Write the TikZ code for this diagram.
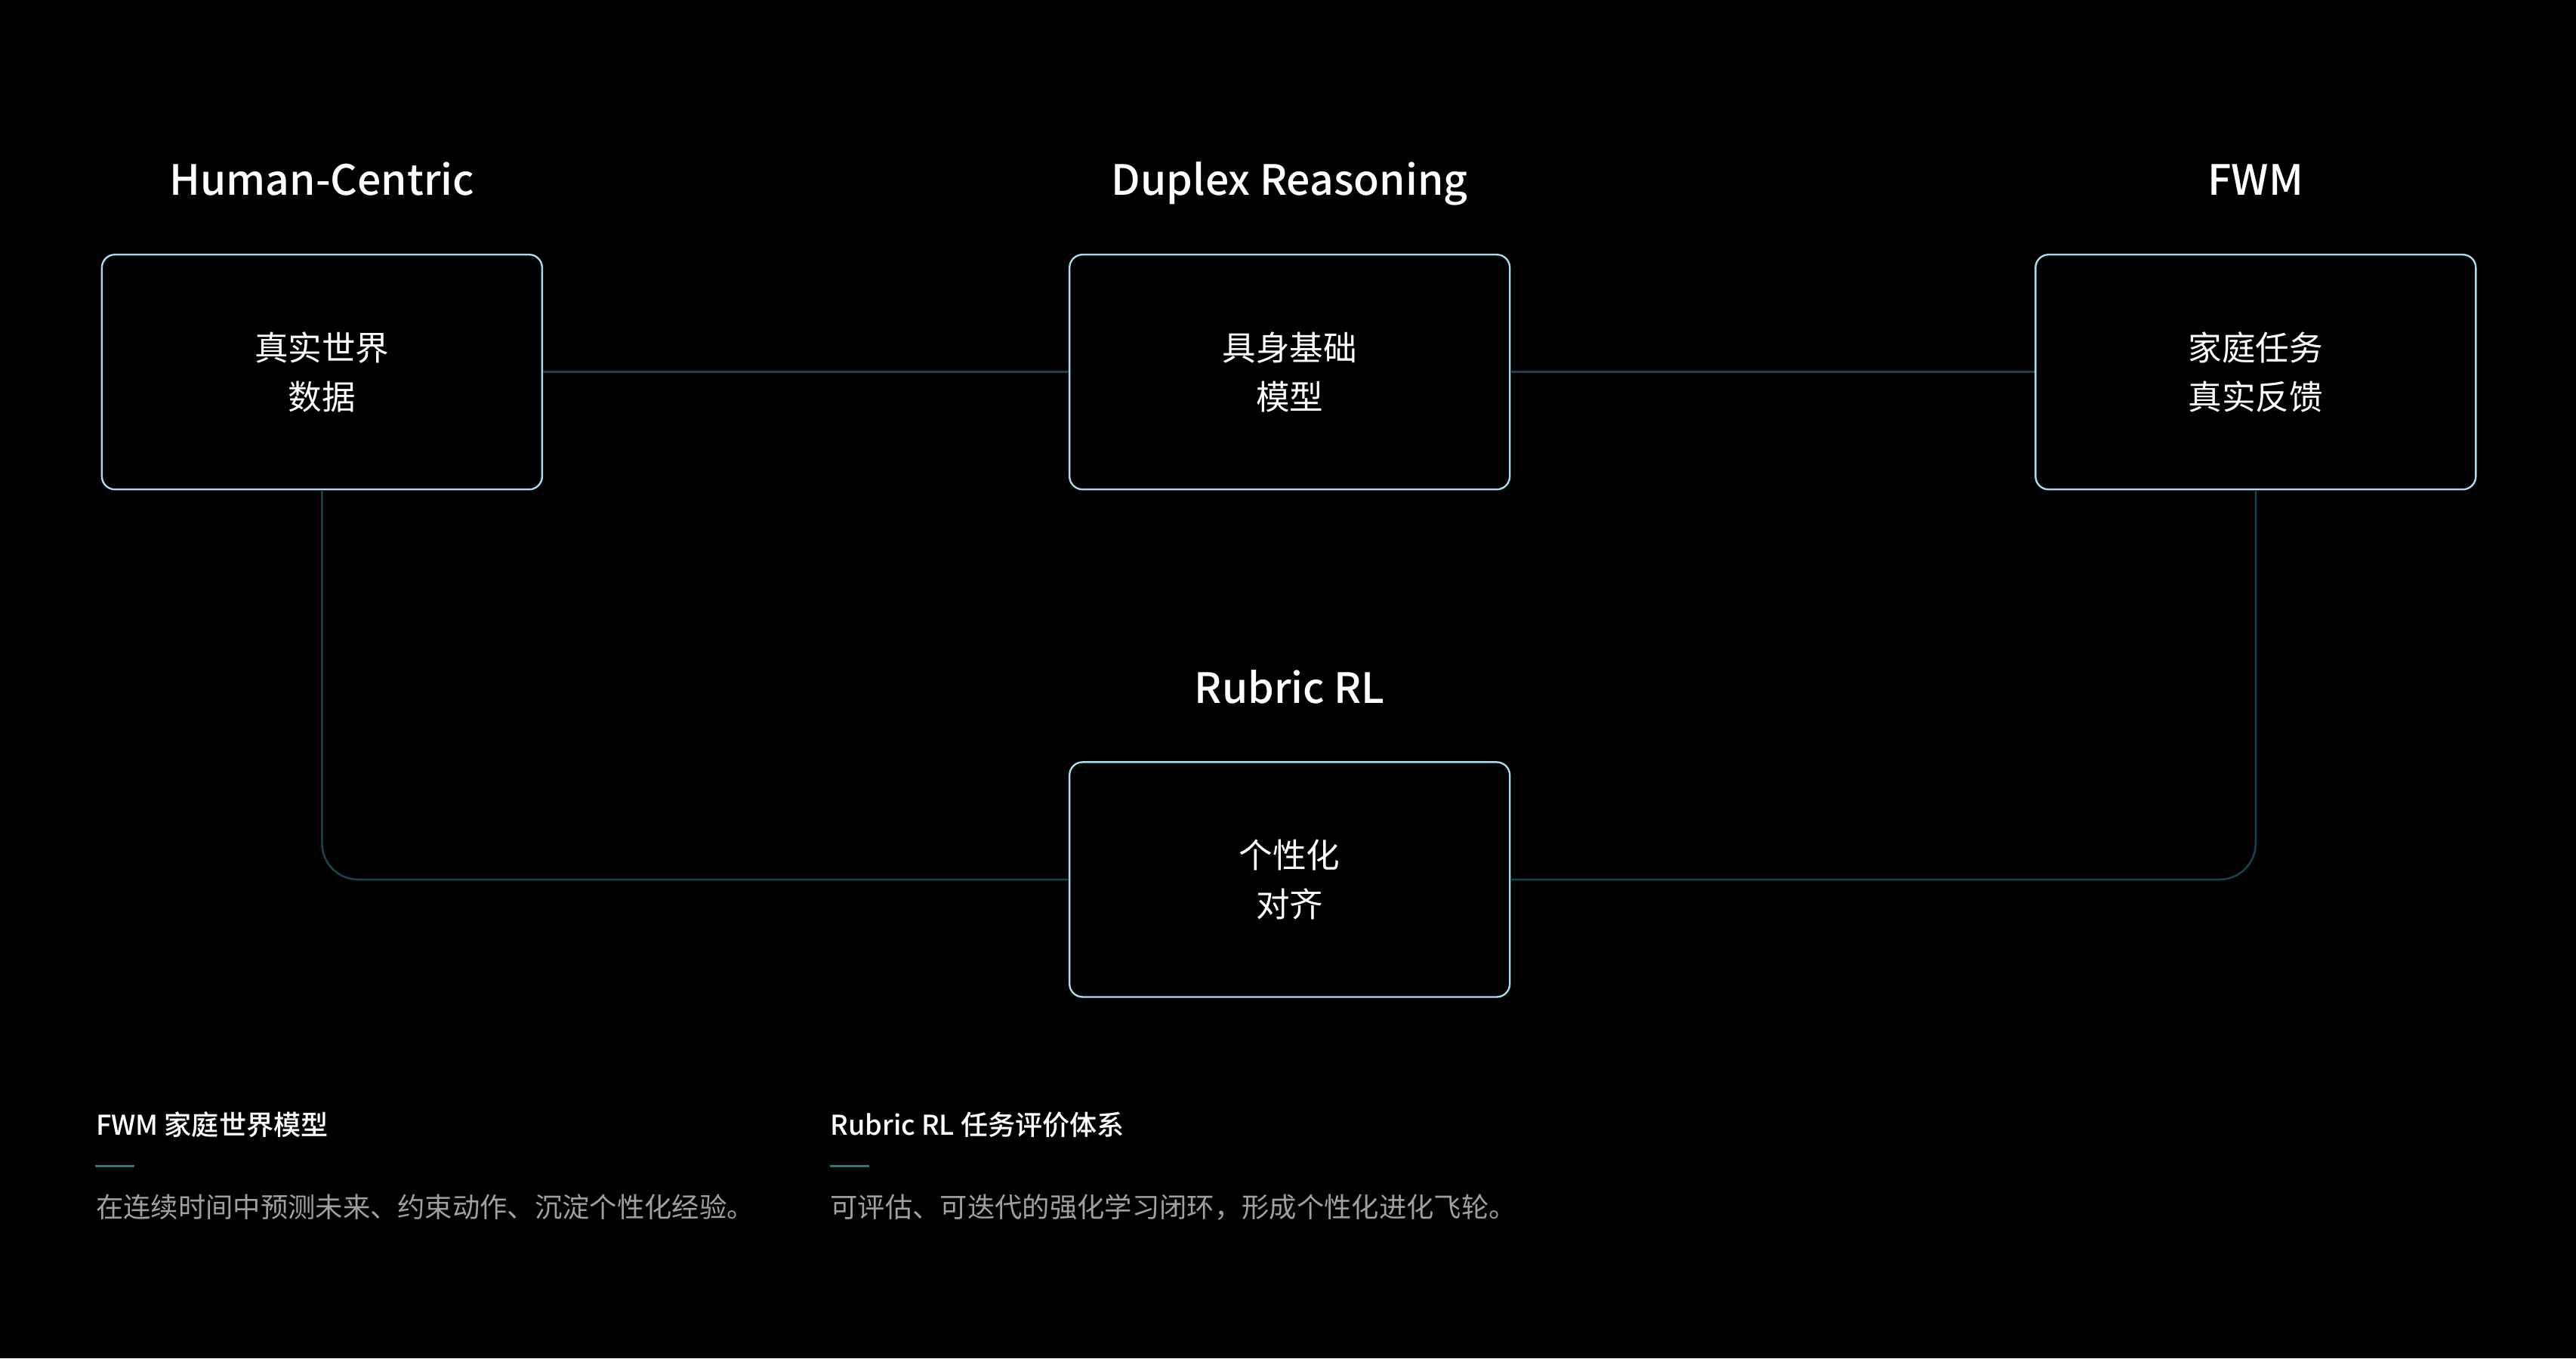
\documentclass[tikz,border=0pt]{standalone}
\usepackage{fontspec}
\setmainfont{Noto Sans CJK SC}[BoldFont={Noto Sans CJK SC Medium}]
\usepackage{tikz}
\usetikzlibrary{positioning}
\definecolor{edgeblue}{HTML}{A8DCEC}
\definecolor{linkteal}{HTML}{17434F}
\definecolor{markteal}{HTML}{1E7B8F}
\definecolor{bodygray}{HTML}{A0A0A0}
\tikzstyle{box} = [draw=edgeblue, line width=0.55pt, rounded corners=4pt, minimum width=134pt, minimum height=71.5pt, align=center, text=white, font=\fontsize{10.25}{15}\selectfont]
\tikzstyle{head} = [text=white, anchor=base, font=\fontsize{12.7}{15}\selectfont\bfseries]
\tikzstyle{link} = [draw=linkteal, line width=0.6pt]
\tikzstyle{legendhead} = [text=white, anchor=base west, inner sep=0pt, font=\fontsize{8.3}{10}\selectfont\bfseries]
\tikzstyle{legendbody} = [text=bodygray, anchor=base west, inner sep=0pt, font=\fontsize{8.35}{10}\selectfont]

\begin{document}
\begin{tikzpicture}[x=0.5pt,y=-0.5pt]
            \fill[black] (0,0) rectangle (1568,827);
            \useasboundingbox (0,0) rectangle (1568,827);
            % three stages on top, alignment below
            \node[box] (data) at (196,226.5) {真实世界\\数据};
            \node[box] (model) at (785,226.5) {具身基础\\模型};
            \node[box] (feedback) at (1373,226.5) {家庭任务\\真实反馈};
            \node[box] (align) at (785,535.5) {个性化\\对齐};
            \node[head] (hc) at (196,119) {Human-Centric};
            \node[head] (dr) at (785,119) {Duplex Reasoning};
            \node[head] (fwm) at (1373,119) {FWM};
            \node[head] (rrl) at (785,428) {Rubric RL};
            % links
            \draw[link] (data) -- (model);
            \draw[link] (model) -- (feedback);
            \draw[link, rounded corners=11pt] (data.south) |- (align.west);
            \draw[link, rounded corners=11pt] (feedback.south) |- (align.east);
            % legend
            \node[legendhead] (lh1) at (58,691) {FWM 家庭世界模型};
            \draw[markteal, line width=0.7pt] (58,710) -- (82,710);
            \node[legendbody] (lb1) at (58,741) {在连续时间中预测未来、约束动作、沉淀个性化经验。};
            \node[legendhead] (lh2) at (505,691) {Rubric RL 任务评价体系};
            \draw[markteal, line width=0.7pt] (505,710) -- (529,710);
            \node[legendbody] (lb2) at (505,741) {可评估、可迭代的强化学习闭环，形成个性化进化飞轮。};
        \end{tikzpicture}
\end{document}
